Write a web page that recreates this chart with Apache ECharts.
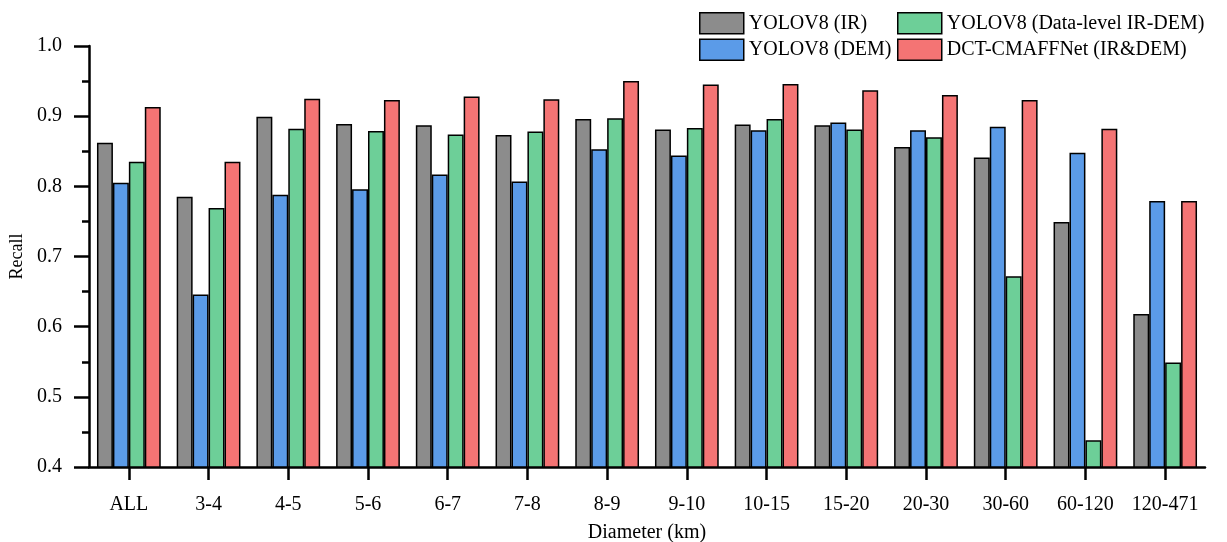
<!DOCTYPE html>
<html>
<head>
<meta charset="utf-8">
<script src="https://cdn.jsdelivr.net/npm/echarts@6/dist/echarts.min.js"></script>
<style>
    html, body { margin: 0; padding: 0; background: #fff; }
    #chart { width: 1227px; height: 542px; }
</style>
</head>
<body>
<div id="chart"></div>
<script>
// 直径分组
var categories = ['ALL', '3-4', '4-5', '5-6', '6-7', '7-8', '8-9', '9-10', '10-15', '15-20', '20-30', '30-60', '60-120', '120-471'];

var seriesNames = ['YOLOV8 (IR)', 'YOLOV8 (DEM)', 'YOLOV8 (Data-level IR-DEM)', 'DCT-CMAFFNet (IR&DEM)'];

var irValues     = [0.862, 0.785, 0.899, 0.889, 0.887, 0.873, 0.896, 0.881, 0.888, 0.887, 0.856, 0.841, 0.749, 0.618];
var demValues    = [0.805, 0.646, 0.788, 0.796, 0.817, 0.807, 0.853, 0.844, 0.880, 0.891, 0.880, 0.885, 0.848, 0.779];
var dataLvValues = [0.835, 0.769, 0.882, 0.879, 0.874, 0.878, 0.897, 0.883, 0.896, 0.881, 0.870, 0.672, 0.438, 0.549];
var oursValues   = [0.913, 0.835, 0.925, 0.923, 0.928, 0.924, 0.950, 0.945, 0.946, 0.937, 0.930, 0.923, 0.882, 0.779];

var yTicks = [0.4, 0.5, 0.6, 0.7, 0.8, 0.9, 1.0];

var colors = ['#8c8c8c', '#5b9be8', '#6dcf98', '#f47474'];

window.onload = function () {
    var myChart = echarts.init(document.getElementById('chart'));
    var font = 'Liberation Serif';
    var allValues = [irValues, demValues, dataLvValues, oursValues];

    var series = [];
    for (var i = 0; i < 4; i++) {
        series.push({
            name: seriesNames[i],
            type: 'bar',
            data: allValues[i],
            barGap: '0%',
            barCategoryGap: '20%',
            itemStyle: {
                color: colors[i],
                borderColor: '#000',
                borderWidth: 1.5
            }
        });
    }

    var legendBase = {
        orient: 'vertical',
        top: 12,
        padding: 0,
        itemWidth: 44,
        itemHeight: 21,
        itemGap: 4,
        icon: 'rect',
        textStyle: { fontFamily: font, fontSize: 20, color: '#000' },
        itemStyle: { borderColor: '#000', borderWidth: 1.5 }
    };

    var option = {
        animation: false,
        color: colors,
        textStyle: { fontFamily: font },
        legend: [
            echarts.util.merge({ left: 699, data: [seriesNames[0], seriesNames[1]] }, legendBase),
            echarts.util.merge({ left: 897, data: [seriesNames[2], seriesNames[3]] }, legendBase)
        ],
        grid: {
            left: 89,
            right: 22,
            top: 46,
            bottom: 75,
            containLabel: false,
            outerBoundsMode: 'none'
        },
        xAxis: {
            type: 'category',
            data: categories,
            name: 'Diameter (km)',
            nameLocation: 'middle',
            nameGap: 56,
            nameTextStyle: { fontFamily: font, fontSize: 20, color: '#000' },
            axisLine: { show: true, lineStyle: { color: '#000', width: 2.5 } },
            axisTick: { show: true, inside: false, alignWithLabel: true, interval: 0, length: 13, lineStyle: { color: '#000', width: 2.5 } },
            axisLabel: { fontFamily: font, fontSize: 20, color: '#000', margin: 28, interval: 0 }
        },
        yAxis: {
            type: 'value',
            min: yTicks[0],
            max: yTicks[yTicks.length - 1],
            interval: 0.1,
            name: 'Recall',
            nameLocation: 'middle',
            nameGap: 63,
            nameTextStyle: { fontFamily: font, fontSize: 18, color: '#000' },
            axisLine: { show: true, lineStyle: { color: '#000', width: 2.5 } },
            axisTick: { show: true, length: 15, lineStyle: { color: '#000', width: 2.5 } },
            minorTick: { show: true, splitNumber: 2, length: 7, lineStyle: { color: '#000', width: 2.5 } },
            splitLine: { show: false },
            axisLabel: {
                fontFamily: font, fontSize: 20, color: '#000', margin: 27,
                formatter: function (v) { return v.toFixed(1); }
            }
        },
        series: series
    };

    myChart.setOption(option);
};
</script>
</body>
</html>
